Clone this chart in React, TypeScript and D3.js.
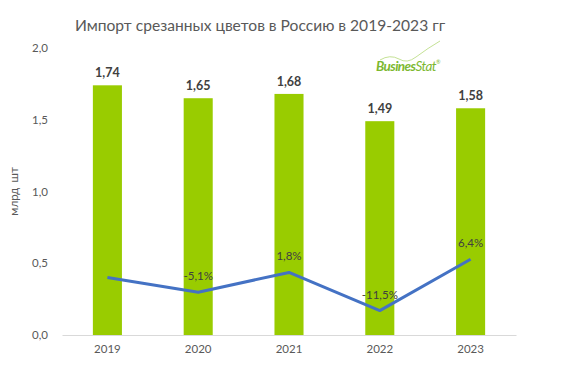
import React, { useEffect, useRef } from "react";
import * as d3 from "d3";

const years = ["2019", "2020", "2021", "2022", "2023"];
const importVals = [1.74, 1.65, 1.68, 1.49, 1.58];
// growth, %; 2019 has no label in the picture
const growthVals = [0, -5.1, 1.8, -11.5, 6.4];
const growthLabels = [null, "-5,1%", "1,8%", "-11,5%", "6,4%"];
const yTicks = [0, 0.5, 1.0, 1.5, 2.0];

const fmt = (v: number, d: number) => v.toFixed(d).replace(".", ",");

export default function App() {
  const svgRef = useRef<SVGSVGElement>(null);

  useEffect(() => {
    if (!svgRef.current) return;
    const width = 562;
    const height = 373;
    const margin = { top: 48, right: 46, bottom: 38, left: 62 };
    const font = "Lato, 'Open Sans', sans-serif";

    const svg = d3.select(svgRef.current);
    svg.selectAll("*").remove();

    svg.append("rect").attr("width", width).attr("height", height).attr("fill", "#fff");

    // Title
    svg.append("text")
      .attr("x", 260)
      .attr("y", 31)
      .attr("text-anchor", "middle")
      .attr("font-family", font)
      .attr("font-size", 15.6)
      .attr("fill", "#595959")
      .text("Импорт срезанных цветов в Россию в 2019-2023 гг");

    const x = d3.scaleBand()
      .domain(years)
      .range([margin.left, width - margin.right])
      .paddingInner(0.68)
      .paddingOuter(0.34);

    const y = d3.scaleLinear()
      .domain([0, 2])
      .range([height - margin.bottom, margin.top]);

    // secondary (hidden) axis for growth
    const y2 = d3.scaleLinear()
      .domain([-20, 80])
      .range([height - margin.bottom, margin.top]);

    // Y axis labels
    const yAxis = d3.axisLeft(y)
      .tickValues(yTicks)
      .tickSize(0)
      .tickPadding(14)
      .tickFormat(d => fmt(d as number, 1));

    const gy = svg.append("g")
      .attr("transform", `translate(${margin.left}, 0)`)
      .call(yAxis);
    gy.select(".domain").remove();
    gy.selectAll("text")
      .attr("font-family", font)
      .attr("font-size", 11.5)
      .attr("fill", "#595959");

    svg.append("text")
      .attr("transform", `translate(18, ${(height - margin.bottom + margin.top) / 2}) rotate(-90)`)
      .attr("text-anchor", "middle")
      .attr("font-family", font)
      .attr("font-size", 11.5)
      .attr("fill", "#595959")
      .attr("word-spacing", 2)
      .text("млрд шт");

    // Bars
    svg.append("g")
      .selectAll("rect")
      .data(importVals)
      .join("rect")
      .attr("x", (_, i) => x(years[i])!)
      .attr("y", d => y(d))
      .attr("width", x.bandwidth())
      .attr("height", d => y(0) - y(d))
      .attr("fill", "#99cc00");

    svg.append("g")
      .selectAll("text")
      .data(importVals)
      .join("text")
      .attr("x", (_, i) => x(years[i])! + x.bandwidth() / 2)
      .attr("y", d => y(d) - 8)
      .attr("text-anchor", "middle")
      .attr("font-family", font)
      .attr("font-weight", "bold")
      .attr("font-size", 12.5)
      .attr("fill", "#404040")
      .text(d => fmt(d, 2));

    // X axis
    const xAxis = d3.axisBottom(x).tickSize(0).tickPadding(10);
    const gx = svg.append("g")
      .attr("transform", `translate(0, ${y(0)})`)
      .call(xAxis);
    gx.select(".domain").attr("stroke", "#d9d9d9").attr("stroke-width", 1);
    gx.selectAll("text")
      .attr("font-family", font)
      .attr("font-size", 11.5)
      .attr("fill", "#595959");

    // Growth line
    const line = d3.line<number>()
      .x((_, i) => x(years[i])! + x.bandwidth() / 2)
      .y(d => y2(d));

    svg.append("path")
      .datum(growthVals)
      .attr("fill", "none")
      .attr("stroke", "#4472c4")
      .attr("stroke-width", 3)
      .attr("stroke-linejoin", "round")
      .attr("d", line);

    svg.append("g")
      .selectAll("text")
      .data(growthVals)
      .join("text")
      .attr("x", (_, i) => x(years[i])! + x.bandwidth() / 2)
      .attr("y", d => y2(d) - 12)
      .attr("text-anchor", "middle")
      .attr("font-family", font)
      .attr("font-size", 11.5)
      .attr("fill", "#404040")
      .text((_, i) => growthLabels[i] ?? "");

    // BusinesStat logo
    const logo = svg.append("g").attr("transform", "translate(376, 71)");
    logo.append("path")
      .attr("d", "M 4 -11 Q 14 -17 23 -12 Q 31 -7 40 -14 Q 52 -23 64 -30")
      .attr("fill", "none")
      .attr("stroke", "#b5d97a")
      .attr("stroke-width", 0.8);
    const lt = logo.append("text")
      .attr("font-family", font)
      .attr("font-style", "italic")
      .attr("font-size", 13.5)
      .attr("fill", "#7cb82f")
      .attr("letter-spacing", -0.6);
    lt.append("tspan").attr("font-weight", "bold").text("Busines");
    lt.append("tspan").text("Stat");
    lt.append("tspan").attr("font-size", 5.5).attr("dy", -7).text("®");
  }, []);

  return (
    <div style={{ width: 562, height: 373, margin: -8 }}>
      <svg ref={svgRef} width={562} height={373} style={{ display: "block" }} />
    </div>
  );
}
